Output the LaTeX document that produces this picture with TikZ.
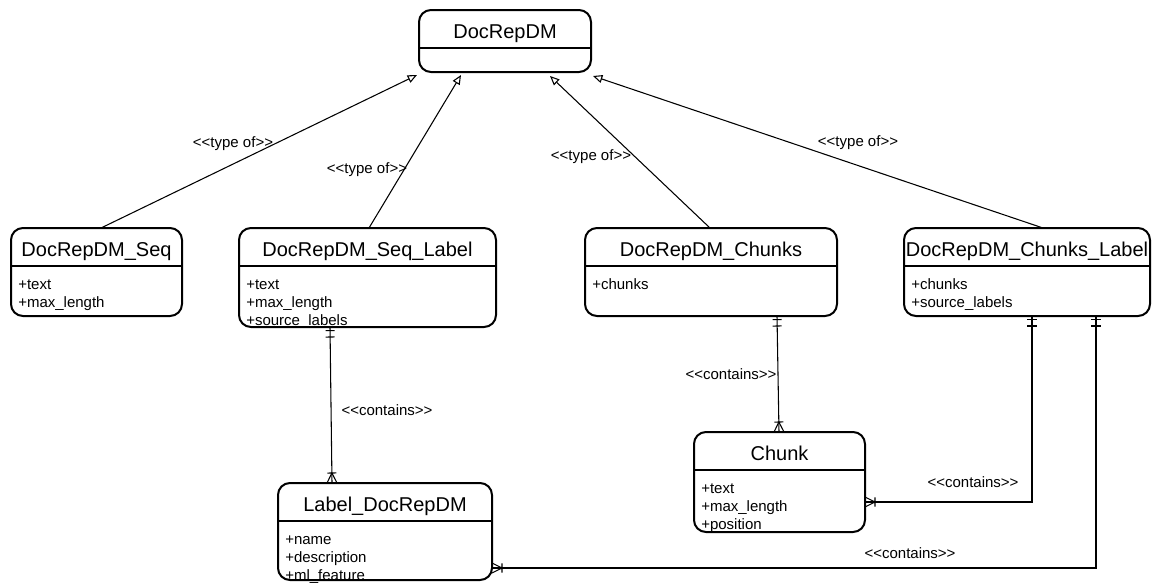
\documentclass[tikz,border=0pt]{standalone}
\usepackage{fontspec}
\setmainfont{Liberation Sans}
\usetikzlibrary{calc,arrows.meta,decorations.markings}

\def\unitpx{0.75pt} % one pixel of the drawing
\newcommand\stereo[1]{<{}<#1>{}>}
% class box: name, x, y, width, height, title, attributes
\newcommand\ClassBox[7]{%
  \node[classbox, minimum width=#4*\unitpx, minimum height=#5*\unitpx] (#1) at (#2,#3) {};
  \draw[classline] ($(#1.north west)+(0,38)$) -- ($(#1.north east)+(0,38)$);
  \node[classtitle] (#1-title) at ($(#1.north)+(0,28)$) {#6};
  \node[classattr] (#1-attr) at ($(#1.north west)+(7,48)$) {\strut #7};
}
\tikzset{%
  >={Triangle[open,length=7pt,width=6pt]}, % inheritance tip
  classbox/.style={draw,line width=1.5pt,rounded corners=9pt,inner sep=0pt,
    outer sep=0pt,anchor=north west},
  classline/.style={line width=1.5pt},
  classtitle/.style={font=\fontsize{15}{18}\selectfont,inner sep=0pt,anchor=base},
  classattr/.style={font=\fontsize{11.25}{13.7}\selectfont,align=left,
    inner sep=0pt,anchor=north west},
  relation/.style={line width=0.8pt},
  reltext/.style={font=\fontsize{11.25}{13.7}\selectfont,inner sep=0pt},
  typeof/.style={relation,->},
  contains/.style={relation,postaction={decorate},decoration={markings,
    mark=at position 2.7pt with {\draw[relation] (0,-3.4pt) -- (0,3.4pt);},
    mark=at position 7.5pt with {\draw[relation] (0,-3.4pt) -- (0,3.4pt);},
    mark=at position -7.5pt with {\draw[relation] (0,-3.4pt) -- (0,3.4pt)
      (7.5pt,-3.75pt) -- (0,0) -- (7.5pt,3.75pt);}}}
}

\begin{document}
\begin{tikzpicture}[x=0.75pt,y=-0.75pt]
\useasboundingbox (0,0) rectangle (1154,583);

% classes
\ClassBox{docrep}{419}{10}{172}{62}{DocRepDM}{}
\ClassBox{seq}{11}{228}{171}{88}{DocRepDM\_Seq}{+text\\+max\_length}
\ClassBox{seqlabel}{239}{228}{257}{99}{DocRepDM\_Seq\_Label}{+text\\+max\_length\\+source\_labels}
\ClassBox{chunks}{585}{228}{252}{88}{DocRepDM\_Chunks}{+chunks}
\ClassBox{chunkslabel}{904}{228}{246}{88}{DocRepDM\_Chunks\_Label}{+chunks\\+source\_labels}
\ClassBox{chunk}{694}{432}{171}{100}{Chunk}{+text\\+max\_length\\+position}
\ClassBox{label}{278}{483}{214}{97}{Label\_DocRepDM}{+name\\+description\\+ml\_feature}

% inheritance
\draw[typeof] ($(seq.north west)+(90,0)$) -- ($(docrep.south west)+(-2,3)$);
\draw[typeof] ($(seqlabel.north west)+(130,0)$) -- ($(docrep.south west)+(42,3)$);
\draw[typeof] ($(chunks.north west)+(125,0)$) -- ($(docrep.south west)+(131,4)$);
\draw[typeof] ($(chunkslabel.north west)+(139,0)$) -- ($(docrep.south east)+(2,4)$);
\node[reltext] (typeof1) at (233,144) {\stereo{type of}};
\node[reltext] (typeof2) at (367,170) {\stereo{type of}};
\node[reltext] (typeof3) at (591,157) {\stereo{type of}};
\node[reltext] (typeof4) at (858,143) {\stereo{type of}};

% containment
\draw[contains] ($(seqlabel.south west)+(91,0)$) -- ($(label.north west)+(54,0)$);
\draw[contains] ($(chunks.south west)+(192,0)$) -- ($(chunk.north west)+(85,0)$);
\draw[contains] ($(chunkslabel.south west)+(128,0)$) |- ($(chunk.north east)+(0,70)$);
\draw[contains] ($(chunkslabel.south west)+(192,0)$) |- ($(label.north east)+(0,85)$);
\node[reltext] (contains1) at (387,410) {\stereo{contains}};
\node[reltext] (contains2) at (731,374) {\stereo{contains}};
\node[reltext] (contains3) at (973,482) {\stereo{contains}};
\node[reltext] (contains4) at (910,553) {\stereo{contains}};

\end{tikzpicture}
\end{document}
